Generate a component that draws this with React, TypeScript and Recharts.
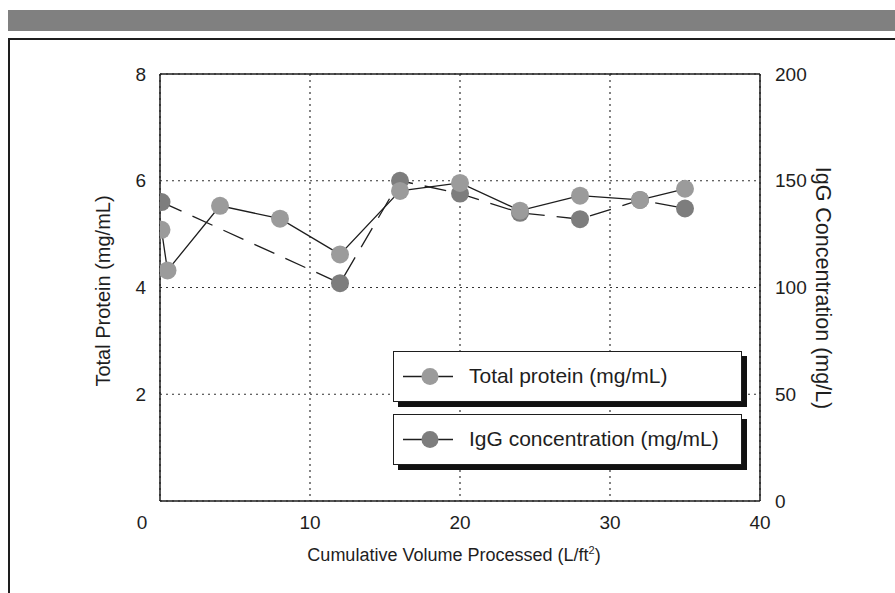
import * as React from 'react';
import {
  ComposedChart,
  Line,
  XAxis,
  YAxis,
  CartesianGrid,
  ReferenceLine,
} from 'recharts';

// cumulative volume (L/ft2) for each sample
const proteinVolume = [0.1, 0.5, 4, 8, 12, 16, 20, 24, 28, 32, 35];
const proteinValues = [5.08, 4.32, 5.53, 5.29, 4.62, 5.81, 5.96, 5.44, 5.72, 5.64, 5.85];

const iggVolume = [0.1, 12, 16, 20, 24, 28, 32, 35];
const iggValues = [140, 102, 150, 144, 135, 132, 141, 137];

const xTicks = [0, 10, 20, 30, 40];
const leftTicks = [2, 4, 6, 8];
const rightTicks = [0, 50, 100, 150, 200];

const proteinData = proteinVolume.map((x, i) => ({ x, protein: proteinValues[i] }));
const iggData = iggVolume.map((x, i) => ({ x, igg: iggValues[i] }));

const FONT = '"Liberation Sans", Arial, Helvetica, sans-serif';
const INK = '#1e1e1e';
const PROTEIN_FILL = '#9b9b9b';
const IGG_FILL = '#7d7d7d';

const XTick = (props: any) => {
  const { x, y, payload } = props;
  const shift = payload.value === 0 ? -18 : 0;
  return (
    <text x={x + shift} y={y} dy="0.71em" textAnchor="middle" fontSize={19} fontFamily={FONT} fill={INK}>
      {payload.value}
    </text>
  );
};

const LegendBox = ({ top, label, fill }: { top: number; label: string; fill: string }) => (
  <div
    style={{
      position: 'absolute',
      left: 393,
      top,
      width: 347,
      height: 49,
      border: `1px solid ${INK}`,
      background: '#fff',
      boxShadow: '5px 5px 0 #111',
      fontFamily: FONT,
      fontSize: 21,
      lineHeight: '24px',
      color: INK,
    }}
  >
    <svg width={60} height={49} style={{ position: 'absolute', left: 9, top: 0 }}>
      <line x1={0} x2={50} y1={24.5} y2={24.5} stroke={INK} strokeWidth={1.3} />
      <circle cx={27} cy={24.5} r={8.5} fill={fill} />
    </svg>
    <span style={{ position: 'absolute', left: 75, top: 12, whiteSpace: 'nowrap' }}>{label}</span>
  </div>
);

export default function App() {
  return (
    <div style={{ position: 'absolute', left: 0, top: 0, width: 895, height: 593, background: '#fff', overflow: 'hidden' }}>
      <div style={{ position: 'absolute', left: 8, top: 10, right: 0, height: 21, background: '#808080' }} />
      <div
        style={{
          position: 'absolute',
          left: 8,
          top: 38,
          width: 900,
          height: 600,
          borderTop: `2px solid ${INK}`,
          borderLeft: `2px solid ${INK}`,
        }}
      />
      <div style={{ position: 'absolute', left: 0, top: 0 }}>
        <ComposedChart
          width={895}
          height={593}
          margin={{ top: 74, left: 100, right: 75, bottom: 32 }}
        >
          <CartesianGrid
            yAxisId="left"
            stroke="#333"
            strokeWidth={1.2}
            strokeDasharray="2 4"
          />
          <XAxis
            dataKey="x"
            type="number"
            domain={[0, 40]}
            ticks={xTicks}
            allowDataOverflow
            height={60}
            tickLine={false}
            tickSize={0}
            tickMargin={15}
            tick={<XTick />}
            axisLine={{ stroke: INK, strokeWidth: 1.5 }}
          />
          <YAxis
            yAxisId="left"
            domain={[0, 8]}
            ticks={leftTicks}
            width={60}
            tickLine={false}
            tickSize={0}
            tickMargin={14}
            tick={{ fontSize: 19, fontFamily: FONT, fill: INK }}
            axisLine={{ stroke: INK, strokeWidth: 1.5 }}
          />
          <YAxis
            yAxisId="right"
            orientation="right"
            domain={[0, 200]}
            ticks={rightTicks}
            width={60}
            tickLine={false}
            tickSize={0}
            tickMargin={15}
            tick={{ fontSize: 19, fontFamily: FONT, fill: INK }}
            axisLine={{ stroke: INK, strokeWidth: 1.5 }}
          />
          <ReferenceLine yAxisId="left" y={8} stroke={INK} strokeWidth={1.5} />
          <Line
            data={iggData}
            yAxisId="right"
            dataKey="igg"
            type="linear"
            stroke={INK}
            strokeWidth={1.3}
            strokeDasharray="22 12"
            dot={{ r: 9, fill: IGG_FILL, stroke: 'none' }}
            activeDot={false}
            isAnimationActive={false}
          />
          <Line
            data={proteinData}
            yAxisId="left"
            dataKey="protein"
            type="linear"
            stroke={INK}
            strokeWidth={1.3}
            dot={{ r: 9, fill: PROTEIN_FILL, stroke: 'none' }}
            activeDot={false}
            isAnimationActive={false}
          />
        </ComposedChart>
      </div>
      <div
        style={{
          position: 'absolute',
          left: 103,
          top: 291,
          transform: 'translate(-50%, -50%) rotate(-90deg)',
          whiteSpace: 'nowrap',
          fontFamily: FONT,
          fontSize: 20,
          color: INK,
        }}
      >
        Total Protein (mg/mL)
      </div>
      <div
        style={{
          position: 'absolute',
          left: 822,
          top: 288,
          transform: 'translate(-50%, -50%) rotate(90deg)',
          whiteSpace: 'nowrap',
          fontFamily: FONT,
          fontSize: 21.5,
          color: INK,
        }}
      >
        IgG Concentration (mg/L)
      </div>
      <div
        style={{
          position: 'absolute',
          left: 454,
          top: 555,
          transform: 'translate(-50%, -50%)',
          whiteSpace: 'nowrap',
          fontFamily: FONT,
          fontSize: 18,
          color: INK,
        }}
      >
        Cumulative Volume Processed (L/ft<sup style={{ fontSize: 11 }}>2</sup>)
      </div>
      <LegendBox top={351} label="Total protein (mg/mL)" fill={PROTEIN_FILL} />
      <LegendBox top={414} label="IgG concentration (mg/mL)" fill={IGG_FILL} />
    </div>
  );
}
